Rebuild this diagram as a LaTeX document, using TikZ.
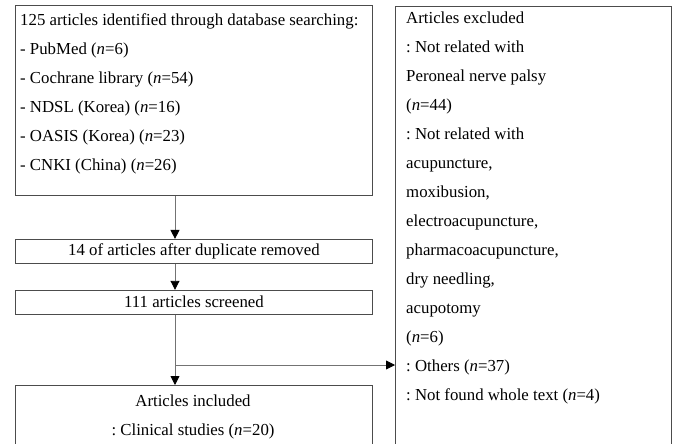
\documentclass[tikz,border=0pt]{standalone}
\usepackage{fontspec}
\setmainfont{Liberation Serif}
\frenchspacing
\usepackage{tikz}
\usetikzlibrary{arrows.meta,positioning}
\tikzset{box node/.style={rectangle,draw=black!70,line width=0.9pt,inner sep=0pt,minimum width=357pt,font=\fontsize{16.8}{29}\selectfont},
  text node/.style={align=left,inner sep=0pt,font=\fontsize{16.8}{29}\selectfont},
  flow/.style={-{Triangle[width=9pt,length=9pt,color=black]},draw=black!55,line width=0.9pt},}

\begin{document}
\begin{tikzpicture}[x=1pt,y=-1pt]
    \useasboundingbox (0,0) rectangle (675,444);
    \node[box node, minimum height=190pt, anchor=north west] (1) at (15,5) {};
    \node[text node, anchor=north west] (1t) at (20,13) {125 articles identified through database searching:\\
      - PubMed (\textit{n}=6)\\
      - Cochrane library (\textit{n}=54)\\
      - NDSL (Korea) (\textit{n}=16)\\
      - OASIS (Korea) (\textit{n}=23)\\
      - CNKI (China) (\textit{n}=26)};
    \node[box node, minimum height=24pt] (2) [below = 43pt of 1] {14 of articles after duplicate removed};
    \node[box node, minimum height=24pt] (3) [below = 26pt of 2] {111 articles screened};
    \node[box node, minimum height=80pt, anchor=north west] (4) at (15,385) {};
    \node[text node, align=center] (4t) at (193,417) {Articles included\\: Clinical studies (\textit{n}=20)};
    \node[box node, minimum width=276pt, minimum height=470pt, anchor=north west] (5) at (395,6) {};
    \node[text node, anchor=north west] (5t) at (406,12) {Articles excluded\\
      : Not related with\\
      Peroneal nerve palsy\\
      (\textit{n}=44)\\
      : Not related with\\
      acupuncture,\\
      moxibusion,\\
      electroacupuncture,\\
      pharmacoacupuncture,\\
      dry needling,\\
      acupotomy\\
      (\textit{n}=6)\\
      : Others (\textit{n}=37)\\
      : Not found whole text (\textit{n}=4)};

    \coordinate (a) at (175,0);
    \coordinate (b) at (175,365);
    \draw[flow] (1.south -| a) -- (2.north -| a);
    \draw[flow] (2.south -| a) -- (3.north -| a);
    \draw[flow] (3.south -| a) -- (4.north -| a);
    \draw[flow] (b) -- (b -| 5.west);
\end{tikzpicture}
\end{document}
